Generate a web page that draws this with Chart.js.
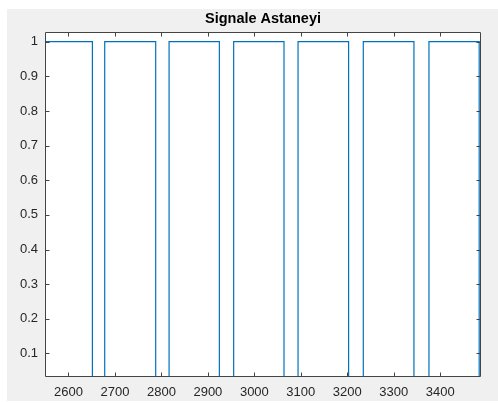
<!DOCTYPE html>
<html>
<head>
<meta charset="utf-8">
<script src="https://cdn.jsdelivr.net/npm/chart.js@4.4.0/dist/chart.umd.min.js"></script>
<style>
html,body{margin:0;padding:0;background:#ffffff;}
#wrap{width:498px;height:403px;position:relative;}
</style>
</head>
<body>
<div id="wrap"><canvas id="c" width="498" height="403"></canvas></div>
<script>
// ---- data ----
const titleText = 'Signale Astaneyi';
const sampleTimes  = [2540, 2651.5, 2678, 2787.7, 2816.5, 2924.7, 2955.5, 3063.8, 3094, 3202.8, 3234.4, 3343.4, 3375.7, 3483.8, 3500];
const sampleValues = [1,    0,      1,    0,      1,      0,      1,      0,      1,    0,      1,      0,      1,      0,      0];
const xTicks = [2600, 2700, 2800, 2900, 3000, 3100, 3200, 3300, 3400];
const xTickLabels = ['2600','2700','2800','2900','3000','3100','3200','3300','3400'];
const yTicks = [0.1, 0.2, 0.3, 0.4, 0.5, 0.6, 0.7, 0.8, 0.9, 1];
const yTickLabels = ['0.1','0.2','0.3','0.4','0.5','0.6','0.7','0.8','0.9','1'];
const xRange = [2549.5, 3487.7];
const yRange = [0.0336, 1.028];

const points = sampleTimes.map((t, i) => ({x: t, y: sampleValues[i]}));

const axisColor = '#444444';
const textColor = '#262626';
const fontFam = '"Liberation Sans", Arial, Helvetica, sans-serif';

const framePlugin = {
  id: 'frame',
  beforeDraw(chart) {
    const ctx = chart.ctx, a = chart.chartArea;
    ctx.save();
    ctx.fillStyle = '#f0f0f0';
    ctx.fillRect(7, 9, 491, 392);
    ctx.fillStyle = '#ffffff';
    ctx.fillRect(a.left, a.top, a.right - a.left, a.bottom - a.top);
    ctx.restore();
  },
  afterDraw(chart) {
    const ctx = chart.ctx, a = chart.chartArea;
    const xs = chart.scales.x, ys = chart.scales.y;
    const L = Math.round(a.left) + 0.5, R = Math.round(a.right) - 0.5;
    const T = Math.round(a.top) + 0.5, B = Math.round(a.bottom) - 0.5;
    ctx.save();
    ctx.strokeStyle = axisColor;
    ctx.lineWidth = 1;
    ctx.beginPath();
    ctx.rect(L, T, R - L, B - T);
    const tl = 4;
    xTicks.forEach(v => {
      const px = Math.round(xs.getPixelForValue(v)) + 0.5;
      ctx.moveTo(px, B); ctx.lineTo(px, B - tl);
      ctx.moveTo(px, T); ctx.lineTo(px, T + tl);
    });
    yTicks.forEach(v => {
      const py = Math.round(ys.getPixelForValue(v)) + 0.5;
      ctx.moveTo(L, py); ctx.lineTo(L + tl, py);
      ctx.moveTo(R, py); ctx.lineTo(R - tl, py);
    });
    ctx.stroke();
    // title
    ctx.fillStyle = '#000000';
    ctx.font = 'bold 14.5px ' + fontFam;
    ctx.textAlign = 'center';
    ctx.textBaseline = 'middle';
    ctx.fillText(titleText, (a.left + a.right) / 2, 18.5);
    ctx.restore();
  }
};

new Chart(document.getElementById('c'), {
  type: 'line',
  data: {
    datasets: [{
      data: points,
      borderColor: '#0072BD',
      borderWidth: 1.2,
      pointRadius: 0,
      fill: false,
      stepped: true,
      tension: 0,
      clip: 0
    }]
  },
  options: {
    responsive: false,
    animation: false,
    devicePixelRatio: 1,
    layout: {padding: {left: 0, right: 17, top: 32, bottom: 0}},
    plugins: {legend: {display: false}, title: {display: false}, tooltip: {enabled: false}},
    scales: {
      x: {
        type: 'linear',
        min: xRange[0], max: xRange[1],
        grid: {display: false, drawTicks: false},
        border: {display: false},
        afterFit(s) { s.height = 26.5; },
        afterBuildTicks(s) { s.ticks = xTicks.map(v => ({value: v})); },
        ticks: {
          autoSkip: false, maxRotation: 0, padding: 8,
          color: textColor, font: {family: fontFam, size: 13},
          callback(v) { const i = xTicks.indexOf(v); return i >= 0 ? xTickLabels[i] : ''; }
        }
      },
      y: {
        type: 'linear',
        min: yRange[0], max: yRange[1],
        grid: {display: false, drawTicks: false},
        border: {display: false},
        afterFit(s) { s.width = 45; },
        afterBuildTicks(s) { s.ticks = yTicks.map(v => ({value: v})); },
        ticks: {
          autoSkip: false, padding: 7,
          color: textColor, font: {family: fontFam, size: 13},
          callback(v) { const i = yTicks.findIndex(t => Math.abs(t - v) < 1e-9); return i >= 0 ? yTickLabels[i] : ''; }
        }
      }
    }
  },
  plugins: [framePlugin]
});
</script>
</body>
</html>
